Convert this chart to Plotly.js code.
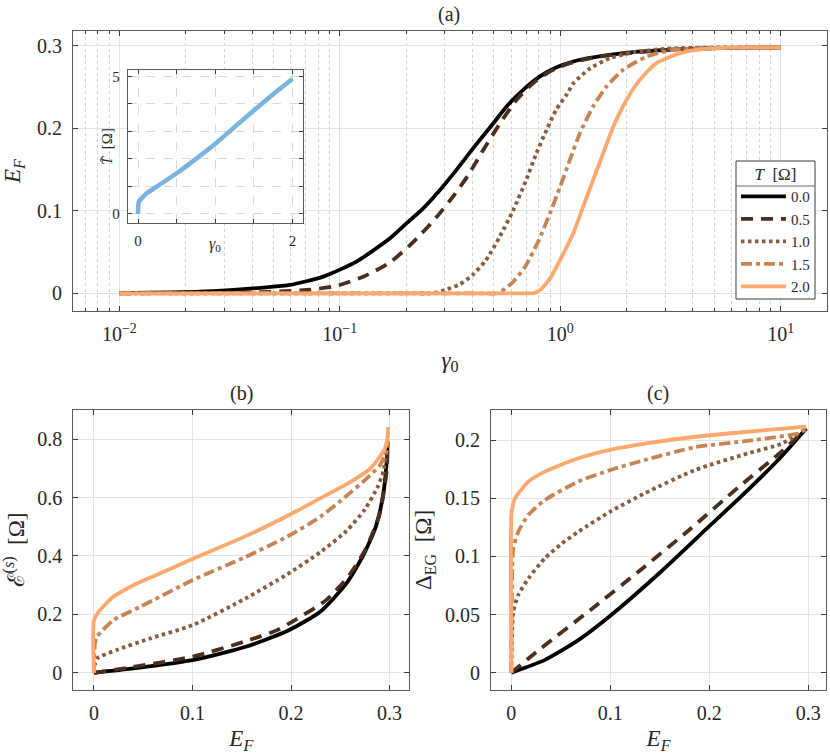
<!DOCTYPE html>
<html>
<head>
<meta charset="utf-8">
<script src="https://cdn.plot.ly/plotly-3.0.1.min.js"></script>
<style>
  html, body { margin: 0; padding: 0; background: #fff; }
  #chart { width: 830px; height: 754px; }
</style>
</head>
<body>
<div id="chart"></div>
<script>
// legend labels (T in Ohm)
const tLabels = ['0.0', '0.5', '1.0', '1.5', '2.0'];

// panel (a): E_F vs gamma_0, one pair of arrays per T
const gamA0 = [0.01, 0.0233, 0.0466, 0.0594, 0.0841, 0.119, 0.169, 0.201, 0.239, 0.284, 0.339, 0.403, 0.48, 0.571, 0.679, 0.809, 0.963, 1.146, 1.34, 2.03, 3.55, 6, 10];
const efA0 = [0.0003, 0.002, 0.0073, 0.0101, 0.0202, 0.0384, 0.0667, 0.085, 0.103, 0.125, 0.150, 0.176, 0.201, 0.2265, 0.2467, 0.263, 0.274, 0.281, 0.285, 0.2917, 0.296, 0.2975, 0.298];
const gamA1 = [0.01, 0.04, 0.0708, 0.0968, 0.13, 0.17, 0.217, 0.272, 0.33, 0.383, 0.448, 0.533, 0.634, 0.755, 0.898, 1.106, 1.5, 2.0, 3.5, 6, 10];
const efA1 = [0, 0.001, 0.004, 0.009, 0.021, 0.038, 0.063, 0.091, 0.119, 0.1436, 0.174, 0.206, 0.2346, 0.255, 0.269, 0.279, 0.287, 0.291, 0.296, 0.2975, 0.298];
const gamA2 = [0.01, 0.05, 0.12, 0.2, 0.26, 0.30, 0.35, 0.40, 0.46, 0.53, 0.61, 0.70, 0.78, 0.87, 0.96, 1.07, 1.15, 1.37, 1.68, 2.14, 3.0, 5, 10];
const efA2 = [0, 0, 0, 0, 0, 0.004, 0.011, 0.022, 0.040, 0.068, 0.10, 0.137, 0.17, 0.199, 0.223, 0.241, 0.255, 0.273, 0.285, 0.292, 0.2965, 0.298, 0.298];
const gamA3 = [0.01, 0.05, 0.15, 0.3, 0.45, 0.52, 0.602, 0.692, 0.795, 0.898, 0.998, 1.107, 1.228, 1.41, 1.623, 1.93, 2.47, 3.25, 5, 10];
const efA3 = [0, 0, 0, 0, 0, 0, 0.012, 0.032, 0.063, 0.097, 0.129, 0.162, 0.194, 0.2265, 0.2507, 0.271, 0.287, 0.295, 0.2975, 0.298];
const gamA4 = [0.01, 0.05, 0.15, 0.35, 0.6, 0.7, 0.755, 0.809, 0.9, 0.998, 1.146, 1.27, 1.41, 1.567, 1.74, 2.0, 2.3, 2.73, 3.49, 4.61, 6, 10];
const efA4 = [0, 0, 0, 0, 0, 0, 0, 0.004, 0.018, 0.0404, 0.0728, 0.105, 0.1375, 0.17, 0.202, 0.2346, 0.259, 0.279, 0.291, 0.2965, 0.2978, 0.298];

// inset: T tilde vs gamma_0
const gamInset = [0, 0.001, 0.003, 0.008, 0.02, 0.047, 0.112, 0.241, 0.5, 0.759, 1.017, 1.276, 1.534, 1.75, 2.0];
const tInset = [0, 0.15, 0.3, 0.4, 0.48, 0.57, 0.75, 0.99, 1.48, 2.02, 2.59, 3.22, 3.84, 4.35, 4.9];

// panel (b): E^(s) vs E_F
const efB0 = [0, 0.04, 0.1, 0.154, 0.196, 0.23, 0.256, 0.273, 0.286, 0.2935, 0.297, 0.298];
const esB0 = [0, 0.015, 0.043, 0.089, 0.143, 0.21, 0.305, 0.40, 0.5, 0.61, 0.72, 0.79];
const efB1 = [0, 0.04, 0.1, 0.154, 0.186, 0.206, 0.235, 0.258, 0.276, 0.29, 0.297, 0.298];
const esB1 = [0, 0.02, 0.055, 0.108, 0.146, 0.185, 0.247, 0.329, 0.425, 0.545, 0.69, 0.79];
const efB2 = [0, 0.001, 0.003, 0.023, 0.057, 0.1, 0.154, 0.196, 0.23, 0.256, 0.275, 0.288, 0.294, 0.298];
const esB2 = [0, 0.03, 0.049, 0.078, 0.1175, 0.163, 0.255, 0.337, 0.414, 0.485, 0.56, 0.637, 0.694, 0.79];
const efB3 = [0, 0.001, 0.003, 0.0196, 0.047, 0.1, 0.154, 0.196, 0.23, 0.256, 0.275, 0.29, 0.297, 0.298];
const esB3 = [0, 0.1, 0.123, 0.18, 0.226, 0.317, 0.397, 0.466, 0.535, 0.605, 0.66, 0.71, 0.76, 0.80];
const efB4 = [0, 0, 0.006, 0.0196, 0.04, 0.0738, 0.1, 0.154, 0.196, 0.23, 0.256, 0.28, 0.29, 0.2955, 0.298, 0.2985];
const esB4 = [0, 0.18, 0.214, 0.26, 0.30, 0.35, 0.39, 0.468, 0.537, 0.598, 0.645, 0.698, 0.74, 0.77, 0.81, 0.842];

// panel (c): Delta_EG vs E_F
const efC0 = [0, 0.034, 0.0677, 0.1, 0.15, 0.2, 0.24, 0.273, 0.298];
const dgC0 = [0, 0.011, 0.028, 0.049, 0.086, 0.126, 0.158, 0.186, 0.21];
const efC1 = [0, 0.03, 0.08, 0.13, 0.18, 0.23, 0.27, 0.298];
const dgC1 = [0, 0.021, 0.054, 0.088, 0.123, 0.16, 0.188, 0.21];
const efC2 = [0, 0.001, 0.002, 0.007, 0.0172, 0.034, 0.0509, 0.0677, 0.1, 0.135, 0.1856, 0.2394, 0.273, 0.298];
const dgC2 = [0, 0.04, 0.0525, 0.0669, 0.081, 0.0985, 0.111, 0.1213, 0.1386, 0.1544, 0.1744, 0.1888, 0.197, 0.21];
const efC3 = [0, 0.001, 0.002, 0.007, 0.0172, 0.034, 0.0677, 0.1, 0.135, 0.1856, 0.2394, 0.29, 0.298];
const dgC3 = [0, 0.09, 0.107, 0.1213, 0.1357, 0.1486, 0.1644, 0.1744, 0.183, 0.194, 0.1995, 0.206, 0.21];
const efC4 = [0, 0, 0.001, 0.0037, 0.0172, 0.034, 0.0677, 0.1, 0.135, 0.1856, 0.2394, 0.298];
const dgC4 = [0, 0.135, 0.142, 0.150, 0.1644, 0.173, 0.1845, 0.1917, 0.197, 0.203, 0.2074, 0.2117];

// tick labels
const tickValsA = [0.01, 0.1, 1, 10];
const tickTextA = ['10<sup>−2</sup>', '10<sup>−1</sup>', '10<sup>0</sup>', '10<sup>1</sup>'];
const minorValsA = [0.007, 0.008, 0.009, 0.02, 0.03, 0.04, 0.05, 0.06, 0.07, 0.08, 0.09,
                    0.2, 0.3, 0.4, 0.5, 0.6, 0.7, 0.8, 0.9, 2, 3, 4, 5, 6, 7, 8, 9, 20];
const insetXVals = [0, 0.5, 1, 1.5, 2];
const insetXText = ['0', ' ', ' ', ' ', '2'];
const insetYVals = [0, 1, 2, 3, 4, 5];
const insetYText = ['0', ' ', ' ', ' ', ' ', '5'];

// styles
const lineColors = ['#000000', '#4a2f1e', '#8a5a3c', '#c98454', '#fda86c'];
const lineDashes = ['solid', '12px,8px', '3.5px,3.5px', '11px,4px,4px,4px', 'solid'];
const serif = 'Liberation Serif';
const ink = '#262626';

const dataA = [[gamA0, efA0], [gamA1, efA1], [gamA2, efA2], [gamA3, efA3], [gamA4, efA4]];
const dataB = [[efB0, esB0], [efB1, esB1], [efB2, esB2], [efB3, esB3], [efB4, esB4]];
const dataC = [[efC0, dgC0], [efC1, dgC1], [efC2, dgC2], [efC3, dgC3], [efC4, dgC4]];

const traces = [];
tLabels.forEach(function(lab, i) {
    const line = { color: lineColors[i], width: 3.8, dash: lineDashes[i], shape: 'spline', smoothing: 0.6 };
    traces.push({ x: dataA[i][0], y: dataA[i][1], xaxis: 'x', yaxis: 'y', type: 'scatter', mode: 'lines',
                  name: lab, legendgroup: lab, line: line, hoverinfo: 'skip' });
    traces.push({ x: dataB[i][0], y: dataB[i][1], xaxis: 'x2', yaxis: 'y2', type: 'scatter', mode: 'lines',
                  name: lab, legendgroup: lab, showlegend: false, line: line, hoverinfo: 'skip' });
    traces.push({ x: dataC[i][0], y: dataC[i][1], xaxis: 'x3', yaxis: 'y3', type: 'scatter', mode: 'lines',
                  name: lab, legendgroup: lab, showlegend: false, line: line, hoverinfo: 'skip' });
});
traces.push({ x: gamInset, y: tInset, xaxis: 'x4', yaxis: 'y4', type: 'scatter', mode: 'lines',
              showlegend: false, line: { color: '#77b4df', width: 4.5, shape: 'spline', smoothing: 0.6 }, hoverinfo: 'skip' });

const frame = {
    showline: true, mirror: 'allticks', linecolor: '#5a5a5a', linewidth: 1,
    ticks: 'inside', ticklen: 5, tickcolor: '#3a3a3a', tickwidth: 1,
    showgrid: true, gridcolor: '#e4e4e4', gridwidth: 1, zeroline: false,
    tickfont: { family: serif, size: 20, color: ink }, ticklabelstandoff: 6
};
function ax(extra) { return Object.assign({}, frame, extra); }
const titleFont = { family: serif, size: 23, color: ink };
const smallFont = { family: serif, size: 15, color: ink };

const layout = {
    width: 830, height: 754,
    margin: { l: 0, r: 0, t: 0, b: 0 },
    paper_bgcolor: '#ffffff', plot_bgcolor: '#ffffff',
    font: { family: serif, size: 19, color: ink },
    showlegend: true,
    legend: {
        x: 0.8867, y: 1 - 158 / 754, xanchor: 'left', yanchor: 'top',
        bgcolor: 'rgba(0,0,0,0)', borderwidth: 0,
        font: { family: serif, size: 15, color: ink },
        title: { text: '<i>T</i>  [Ω]', side: 'top center', font: { family: serif, size: 17, color: ink } },
        itemwidth: 45, tracegroupgap: 0
    },
    xaxis: ax({
        type: 'log', domain: [0.088, 0.9964], range: [-2.21, 1.21], anchor: 'y',
        tickmode: 'array', tickvals: tickValsA, ticktext: tickTextA, ticklabelstandoff: 5,
        minor: { tickmode: 'array', tickvals: minorValsA, ticks: 'inside', ticklen: 3, tickcolor: '#3a3a3a',
                 showgrid: true, gridcolor: '#d2d2d2', griddash: 'dot', gridwidth: 1 },
        title: { text: '<i>γ</i><sub>0</sub>', font: titleFont, standoff: 7 }
    }),
    yaxis: ax({
        domain: [0.5875, 0.9589], range: [-0.0215, 0.318], anchor: 'x', dtick: 0.1, tick0: 0,
        title: { text: '<i>E</i><sub><i>F</i></sub>', font: titleFont, standoff: 12 }
    }),
    xaxis2: ax({
        domain: [0.0883, 0.4931], range: [-0.021, 0.32], anchor: 'y2', dtick: 0.1, tick0: 0, ticklabelstandoff: 5,
        title: { text: '<i>E</i><sub><i>F</i></sub>', font: titleFont, standoff: 13 }
    }),
    yaxis2: ax({
        domain: [0.0849, 0.4562], range: [-0.059, 0.9], anchor: 'x2', dtick: 0.2, tick0: 0,
        title: { text: 'ℰ<sup>(<i>s</i>)</sup>  [Ω]', font: titleFont, standoff: 12 }
    }),
    xaxis3: ax({
        domain: [0.5916, 0.9952], range: [-0.0205, 0.318], anchor: 'y3', dtick: 0.1, tick0: 0, ticklabelstandoff: 5,
        title: { text: '<i>E</i><sub><i>F</i></sub>', font: titleFont, standoff: 13 }
    }),
    yaxis3: ax({
        domain: [0.0849, 0.4562], range: [-0.0149, 0.226], anchor: 'x3', dtick: 0.05, tick0: 0,
        title: { text: 'Δ<sub>EG</sub>  [Ω]', font: titleFont, standoff: 6 }
    }),
    xaxis4: ax({
        domain: [0.1539, 0.3654], range: [-0.133, 2.14], anchor: 'y4',
        tickmode: 'array', tickvals: insetXVals, ticktext: insetXText, ticklen: 4, ticklabelstandoff: 4,
        gridcolor: '#dadada', griddash: 'dash', tickfont: smallFont
    }),
    yaxis4: ax({
        domain: [0.7038, 0.9072], range: [-0.34, 5.23], anchor: 'x4',
        tickmode: 'array', tickvals: insetYVals, ticktext: insetYText, ticklen: 4, ticklabelstandoff: 4,
        gridcolor: '#dadada', griddash: 'dash', tickfont: smallFont
    }),
    shapes: [
        { type: 'rect', xref: 'paper', yref: 'paper', x0: 736 / 830, x1: 815 / 830, y0: 1 - 299 / 754, y1: 1 - 161 / 754,
          line: { color: '#3a3a3a', width: 1 }, fillcolor: '#ffffff', layer: 'above' },
        { type: 'line', xref: 'paper', yref: 'paper', x0: 736 / 830, x1: 815 / 830, y0: 1 - 186 / 754, y1: 1 - 186 / 754,
          line: { color: '#6a6a6a', width: 1 }, layer: 'above' }
    ],
    annotations: [
        { text: '(a)', xref: 'paper', yref: 'paper', x: 449 / 830, y: 1 - 14 / 754, xanchor: 'center', yanchor: 'middle', showarrow: false, font: { family: serif, size: 20, color: ink } },
        { text: '(b)', xref: 'paper', yref: 'paper', x: 241 / 830, y: 1 - 393 / 754, xanchor: 'center', yanchor: 'middle', showarrow: false, font: { family: serif, size: 20, color: ink } },
        { text: '(c)', xref: 'paper', yref: 'paper', x: 658 / 830, y: 1 - 393 / 754, xanchor: 'center', yanchor: 'middle', showarrow: false, font: { family: serif, size: 20, color: ink } },
        { text: '<i>γ</i><sub>0</sub>', xref: 'paper', yref: 'paper', x: 215 / 830, y: 1 - 245 / 754, xanchor: 'center', yanchor: 'middle', showarrow: false, font: { family: serif, size: 16, color: ink } },
        { text: '<i>T̃</i>  [Ω]', xref: 'paper', yref: 'paper', x: 107 / 830, y: 1 - 147 / 754, xanchor: 'center', yanchor: 'middle', textangle: -90, showarrow: false, font: { family: serif, size: 15, color: ink } }
    ]
};

Plotly.newPlot('chart', traces, layout, { displayModeBar: false, staticPlot: true });
</script>
</body>
</html>
